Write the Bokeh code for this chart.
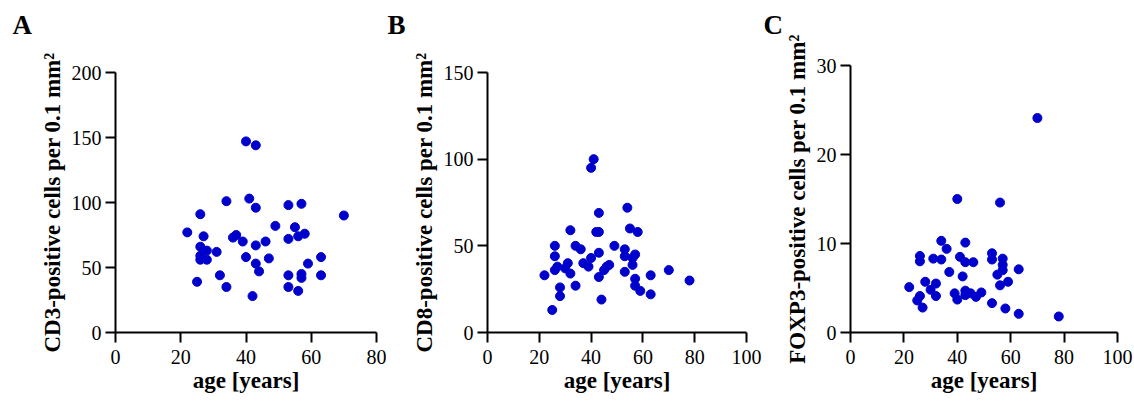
from bokeh.plotting import figure
from bokeh.layouts import row, column
from bokeh.models import Range1d, FixedTicker
from bokeh.embed import file_html
from bokeh.resources import INLINE

# Panel A: CD3
a_age = [22, 26, 27, 26, 26, 26, 28, 28, 25, 31, 32, 34, 34, 36, 37, 39, 40, 43, 41, 43,
         43, 40, 43, 44, 42, 46, 47, 49, 53, 57, 55, 56, 58, 53, 59, 63, 53, 57, 57, 63,
         53, 56, 70]
a_val = [77, 91, 74, 66, 59, 56, 63, 56, 39, 62, 44, 101, 35, 73, 75, 70, 147, 144, 103, 96,
         67, 58, 53, 47, 28, 70, 57, 82, 98, 99, 81, 74, 76, 72, 53, 58, 44, 45, 42, 44,
         35, 32, 90]

# Panel B: CD8
b_age = [22, 25, 26, 26, 26, 27, 28, 28, 31, 30, 32, 32, 34, 36, 34, 37, 39, 40, 40, 41,
         43, 42, 43, 43, 43, 44, 45, 46, 47, 49, 54, 53, 53, 53, 55, 58, 56, 57, 56, 57,
         57, 59, 63, 63, 70, 78]
b_val = [33, 13, 50, 44, 36, 38, 26, 21, 40, 37, 34, 59, 50, 48, 27, 40, 38, 43, 95, 100,
         69, 58, 58, 46, 32, 19, 36, 38, 39, 50, 72, 48, 44, 35, 60, 58, 43, 45, 39, 31,
         27, 24, 33, 22, 36, 30]

# Panel C: FOXP3
c_age = [22, 25, 26, 26, 26, 27, 28, 30, 31, 32, 32, 34, 34, 36, 37, 39, 40, 40, 41, 42,
         43, 43, 43, 43, 45, 46, 47, 49, 53, 53, 53, 55, 56, 56, 57, 57, 57, 58, 59, 63,
         63, 70, 78]
c_val = [5.1, 3.6, 4.1, 8.6, 8.0, 2.8, 5.7, 4.8, 8.3, 5.5, 4.1, 10.3, 8.2, 9.4, 6.8, 4.4, 3.7, 15.0, 8.5, 6.3,
         10.1, 7.9, 4.7, 4.2, 4.4, 7.9, 4.0, 4.5, 8.9, 8.2, 3.3, 6.5, 14.6, 5.3, 8.3, 7.6, 7.0, 2.7, 5.7, 7.1,
         2.1, 24.1, 1.8]

a_xticks = [0, 20, 40, 60, 80]
bc_xticks = [0, 20, 40, 60, 80, 100]
a_yticks = [0, 50, 100, 150, 200]
b_yticks = [0, 50, 100, 150]
c_yticks = [0, 10, 20, 30]

x_label = "age [years]"
a_ylabel = "CD3-positive cells per 0.1 mm²"
b_ylabel = "CD8-positive cells per 0.1 mm²"
c_ylabel = "FOXP3-positive cells per 0.1 mm²"

SERIF = "Liberation Serif"
DOT = "#0000cc"


def panel(ages, vals, xticks, yticks, ylabel, letter, fw, fh, bl, br, bt, bb,
          loff, lstand, lheight):
    p = figure(frame_width=fw, frame_height=fh,
               x_range=Range1d(xticks[0], xticks[-1]), y_range=Range1d(yticks[0], yticks[-1]),
               output_backend="svg", toolbar_location=None,
               min_border_left=bl, min_border_right=br, min_border_top=bt, min_border_bottom=bb)
    p.xgrid.visible = False
    p.ygrid.visible = False
    p.outline_line_color = None
    p.background_fill_color = "white"
    p.border_fill_color = "white"
    p.xaxis.ticker = FixedTicker(ticks=xticks)
    p.yaxis.ticker = FixedTicker(ticks=yticks)
    p.xaxis.axis_label = x_label
    p.yaxis.axis_label = ylabel
    for ax in (p.xaxis, p.yaxis):
        ax.axis_line_width = 2
        ax.axis_line_color = "black"
        ax.major_tick_line_width = 2
        ax.major_tick_line_color = "black"
        ax.major_tick_out = 10
        ax.major_tick_in = 0
        ax.minor_tick_out = 0
        ax.minor_tick_in = 0
        ax.major_label_text_font = SERIF
        ax.major_label_text_font_size = "20px"
        ax.major_label_text_color = "black"
        ax.axis_label_text_font = SERIF
        ax.axis_label_text_font_size = "23px"
        ax.axis_label_text_font_style = "bold"
        ax.axis_label_text_color = "black"
    p.xaxis.major_label_standoff = 7
    p.yaxis.major_label_standoff = 4
    p.xaxis.axis_label_standoff = 1
    p.yaxis.axis_label_standoff = 4
    p.scatter(ages, vals, size=9, color=DOT, line_color=DOT)
    # panel letter (a blank second line lifts it above the frame)
    p.title.text = letter + "\n "
    p.title.align = "left"
    p.title.offset = loff
    p.title.standoff = lstand
    p.title.text_line_height = lheight
    p.title.text_font = SERIF
    p.title.text_font_size = "27px"
    p.title.text_font_style = "bold"
    p.title.text_color = "black"
    return p


pa = panel(a_age, a_val, a_xticks, a_yticks, a_ylabel, "A", 261, 260, 115, 10, 72, 73, -103, 6, 1.0)
pb = panel(b_age, b_val, bc_xticks, b_yticks, b_ylabel, "B", 259, 260, 101, 16, 72, 73, -100, 6, 1.0)
pc = panel(c_age, c_val, bc_xticks, c_yticks, c_ylabel, "C", 267, 267, 88, 17, 65, 73, -87, 0, 0.85)

layout = row(column(pa), column(pb), column(pc))
open("out.html", "w").write(file_html(layout, INLINE))
